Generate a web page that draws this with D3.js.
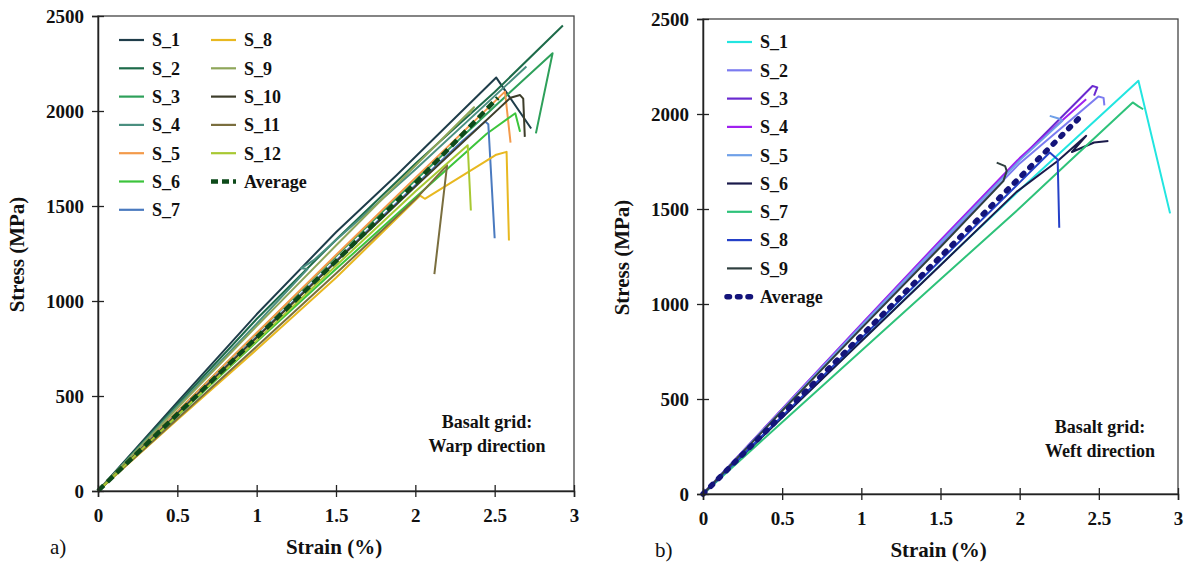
<!DOCTYPE html>
<html>
<head>
<meta charset="utf-8">
<script src="https://cdn.jsdelivr.net/npm/d3@7"></script>
<style>
  body { margin: 0; background: #fff; }
  svg text { font-family: "Liberation Serif", "Times New Roman", serif; }
</style>
</head>
<body>
<svg id="chart" width="1192" height="570"></svg>
<script>
// ---- data (strain %, stress MPa) ----
var strainTicks = [0, 0.5, 1, 1.5, 2, 2.5, 3];
var stressTicks = [0, 500, 1000, 1500, 2000, 2500];

var warpNames = ["S_1", "S_2", "S_3", "S_4", "S_5", "S_6", "S_7", "S_8", "S_9", "S_10", "S_11", "S_12", "Average"];
var warpS1 = [[0,0],[0.5,468],[1.0,930],[1.5,1362],[1.88,1660],[2.51,2176],[2.73,1908]];
var warpS2 = [[0,0],[0.5,455],[1.0,905],[1.5,1322],[2.0,1722],[2.5,2100],[2.93,2450]];
var warpS3 = [[0,0],[0.5,418],[1.0,830],[1.5,1236],[2.0,1636],[2.5,2024],[2.865,2304],[2.76,1882]];
var warpS4 = [[0,0],[0.5,445],[1.0,880],[1.32,1168],[1.28,1172],[1.36,1215],[1.52,1335],[2.0,1692],[2.70,2234]];
var warpS5 = [[0,0],[0.5,418],[1.0,832],[1.5,1242],[2.0,1648],[2.565,2102],[2.60,1834]];
var warpS6 = [[0,0],[0.5,395],[1.0,785],[1.5,1168],[2.0,1545],[2.45,1880],[2.63,1988],[2.66,1891]];
var warpS7 = [[0,0],[0.5,408],[1.0,812],[1.5,1212],[2.0,1610],[2.3,1845],[2.44,1945],[2.46,1930],[2.50,1330]];
var warpS8 = [[0,0],[0.5,375],[1.0,745],[1.5,1122],[2.03,1555],[2.06,1538],[2.47,1749],[2.51,1770],[2.575,1785],[2.59,1318]];
var warpS9 = [[0,0],[0.5,436],[1.0,868],[1.5,1292],[2.0,1712],[2.37,2020],[2.34,1985]];
var warpS10 = [[0,0],[0.5,405],[1.0,808],[1.5,1206],[2.0,1602],[2.60,2070],[2.66,2084],[2.68,2065],[2.69,1864]];
var warpS11 = [[0,0],[0.5,380],[1.0,760],[1.5,1145],[2.0,1535],[2.20,1714],[2.12,1142]];
var warpS12 = [[0,0],[0.5,398],[1.0,792],[1.5,1186],[2.0,1576],[2.33,1820],[2.35,1476]];
var warpAvg = [[0,0],[0.5,404],[1.0,808],[1.5,1210],[2.0,1620],[2.52,2070]];

var weftNames = ["S_1", "S_2", "S_3", "S_4", "S_5", "S_6", "S_7", "S_8", "S_9", "Average"];
var weftS1 = [[0,0],[0.5,404],[1.0,806],[1.5,1206],[2.0,1600],[2.75,2175],[2.95,1477]];
var weftS2 = [[0,0],[0.5,440],[1.0,878],[1.5,1312],[2.0,1740],[2.497,2092],[2.53,2085],[2.535,2045]];
var weftS3 = [[0,0],[0.5,446],[1.0,890],[1.5,1330],[2.0,1762],[2.46,2147],[2.49,2140],[2.47,2097]];
var weftS4 = [[0,0],[0.5,448],[1.0,894],[1.5,1336],[2.0,1768],[2.42,2078]];
var weftS5 = [[0,0],[0.5,444],[1.0,886],[1.5,1324],[2.0,1756],[2.27,1965],[2.24,1978],[2.19,1990]];
var weftS6 = [[0,0],[0.5,402],[1.0,804],[1.5,1204],[1.98,1590],[2.24,1753],[2.42,1885],[2.33,1800],[2.47,1850],[2.56,1858]];
var weftS7 = [[0,0],[0.5,378],[1.0,754],[1.5,1130],[2.0,1505],[2.3,1740],[2.714,2061],[2.75,2040],[2.78,2025]];
var weftS8 = [[0,0],[0.5,410],[1.0,820],[1.5,1230],[2.0,1640],[2.19,1797],[2.24,1760],[2.25,1401]];
var weftS9 = [[0,0],[0.5,438],[1.0,872],[1.5,1300],[1.897,1647],[1.918,1700],[1.908,1726],[1.855,1744]];
var weftAvg = [[0,0],[0.5,416],[1.0,832],[1.5,1249],[2.0,1665],[2.40,1999]];

var warpColors = ["#1f3d4a", "#1e6b4a", "#2ea05a", "#4a8f80", "#f39a4a", "#3cc43c", "#4a7abf",
                  "#e8b820", "#8fa65a", "#3d3d2a", "#7a6e3e", "#a8c832", "#0d4a1a"];
var weftColors = ["#22e5e0", "#7b7bf0", "#6a2ad0", "#a020f0", "#6fa0e8", "#1a1a4a", "#2ec27a",
                  "#2440c8", "#2f3f3f", "#14147a"];

var svg = d3.select("#chart");

function drawPanel(opts) {
    var x = d3.scaleLinear().domain([0, 3]).range([opts.left, opts.right]);
    var y = d3.scaleLinear().domain([0, 2500]).range([opts.bottom, opts.top]);
    var g = svg.append("g");

    // frame
    g.append("rect")
        .attr("x", opts.left).attr("y", opts.top)
        .attr("width", opts.right - opts.left).attr("height", opts.bottom - opts.top)
        .attr("fill", "none").attr("stroke", "#444").attr("stroke-width", 1.3);

    var line = d3.line().x(function(d) { return x(d[0]); }).y(function(d) { return y(d[1]); });

    // specimens, then average on top
    opts.series.forEach(function(s, i) {
        var last = i === opts.series.length - 1;
        var p = g.append("path")
            .datum(s)
            .attr("fill", "none")
            .attr("stroke", opts.colors[i])
            .attr("stroke-width", last ? opts.avgWidth : 2)
            .attr("stroke-linejoin", "round")
            .attr("d", line);
        if (last) {
            p.attr("stroke-dasharray", opts.dash).attr("stroke-linecap", opts.cap);
        }
    });

    // axes
    var xAxis = g.append("g")
        .attr("transform", "translate(0," + opts.bottom + ")")
        .call(d3.axisBottom(x).tickValues(strainTicks).tickSize(6).tickPadding(12).tickFormat(d3.format("")));
    var yAxis = g.append("g")
        .attr("transform", "translate(" + opts.left + ",0)")
        .call(d3.axisLeft(y).tickValues(stressTicks).tickSize(6).tickPadding(8).tickFormat(d3.format("")));
    [xAxis, yAxis].forEach(function(a) {
        a.select(".domain").attr("stroke", "#222").attr("stroke-width", 1.5);
        a.selectAll(".tick line").attr("stroke", "#222").attr("stroke-width", 1.3);
        a.selectAll(".tick text").attr("font-size", 19).attr("font-weight", "bold").attr("fill", "#111")
            .style("font-family", "'Liberation Serif', serif");
    });
    xAxis.selectAll(".tick line").attr("y1", -6).attr("y2", 6);
    yAxis.selectAll(".tick line").attr("x1", -6).attr("x2", 6);

    // titles
    g.append("text")
        .attr("x", (opts.left + opts.right) / 2 - 2).attr("y", opts.bottom + 63)
        .attr("text-anchor", "middle").attr("font-size", 21).attr("font-weight", "bold").attr("fill", "#111")
        .text("Strain (%)");
    g.append("text")
        .attr("transform", "translate(" + (opts.left - 74) + "," + ((opts.top + opts.bottom) / 2 + 1) + ") rotate(-90)")
        .attr("text-anchor", "middle").attr("font-size", 21).attr("font-weight", "bold").attr("fill", "#111")
        .text("Stress (MPa)");
    g.append("text")
        .attr("x", opts.left - 48).attr("y", opts.bottom + 63)
        .attr("font-size", 21).attr("fill", "#111")
        .text(opts.tag);

    // note
    opts.note.forEach(function(t, i) {
        g.append("text")
            .attr("x", opts.noteX).attr("y", opts.noteY + i * 24)
            .attr("text-anchor", "middle").attr("font-size", 18).attr("font-weight", "bold").attr("fill", "#111")
            .text(t);
    });

    // legend
    var legend = g.selectAll(".legend")
        .data(opts.names)
        .enter().append("g")
        .attr("transform", function(d, i) {
            var col = Math.floor(i / opts.perCol);
            var row = i % opts.perCol;
            return "translate(" + (opts.legX + col * opts.colGap) + "," + (opts.legY + row * opts.rowGap) + ")";
        });
    legend.append("line")
        .attr("x1", 0).attr("x2", 25).attr("y1", 0).attr("y2", 0)
        .attr("stroke", function(d, i) { return opts.colors[i]; })
        .attr("stroke-width", function(d, i) { return i === opts.names.length - 1 ? opts.avgWidth : 2.2; })
        .attr("stroke-dasharray", function(d, i) { return i === opts.names.length - 1 ? opts.legDash : null; })
        .attr("stroke-linecap", function(d, i) { return i === opts.names.length - 1 ? opts.cap : null; });
    legend.append("text")
        .attr("x", 33).attr("y", 0).attr("dy", "0.35em")
        .attr("font-size", 18).attr("font-weight", "bold").attr("fill", "#111")
        .text(function(d) { return d; });
}

drawPanel({
    left: 98, right: 574, top: 16, bottom: 491,
    series: [warpS1, warpS2, warpS3, warpS4, warpS5, warpS6, warpS7, warpS8, warpS9, warpS10, warpS11, warpS12, warpAvg],
    names: warpNames, colors: warpColors,
    dash: "8,5", legDash: "7,4", cap: "butt", avgWidth: 4.5,
    tag: "a)",
    note: ["Basalt grid:", "Warp direction"], noteX: 487, noteY: 428,
    legX: 119, legY: 40, perCol: 7, colGap: 92, rowGap: 28.3
});

drawPanel({
    left: 703, right: 1178, top: 19, bottom: 494,
    series: [weftS1, weftS2, weftS3, weftS4, weftS5, weftS6, weftS7, weftS8, weftS9, weftAvg],
    names: weftNames, colors: weftColors,
    dash: "2.5,8.5", legDash: "2.5,8", cap: "round", avgWidth: 5.5,
    tag: "b)",
    note: ["Basalt grid:", "Weft direction"], noteX: 1100, noteY: 433,
    legX: 727, legY: 42, perCol: 10, colGap: 0, rowGap: 28.3
});
</script>
</body>
</html>
